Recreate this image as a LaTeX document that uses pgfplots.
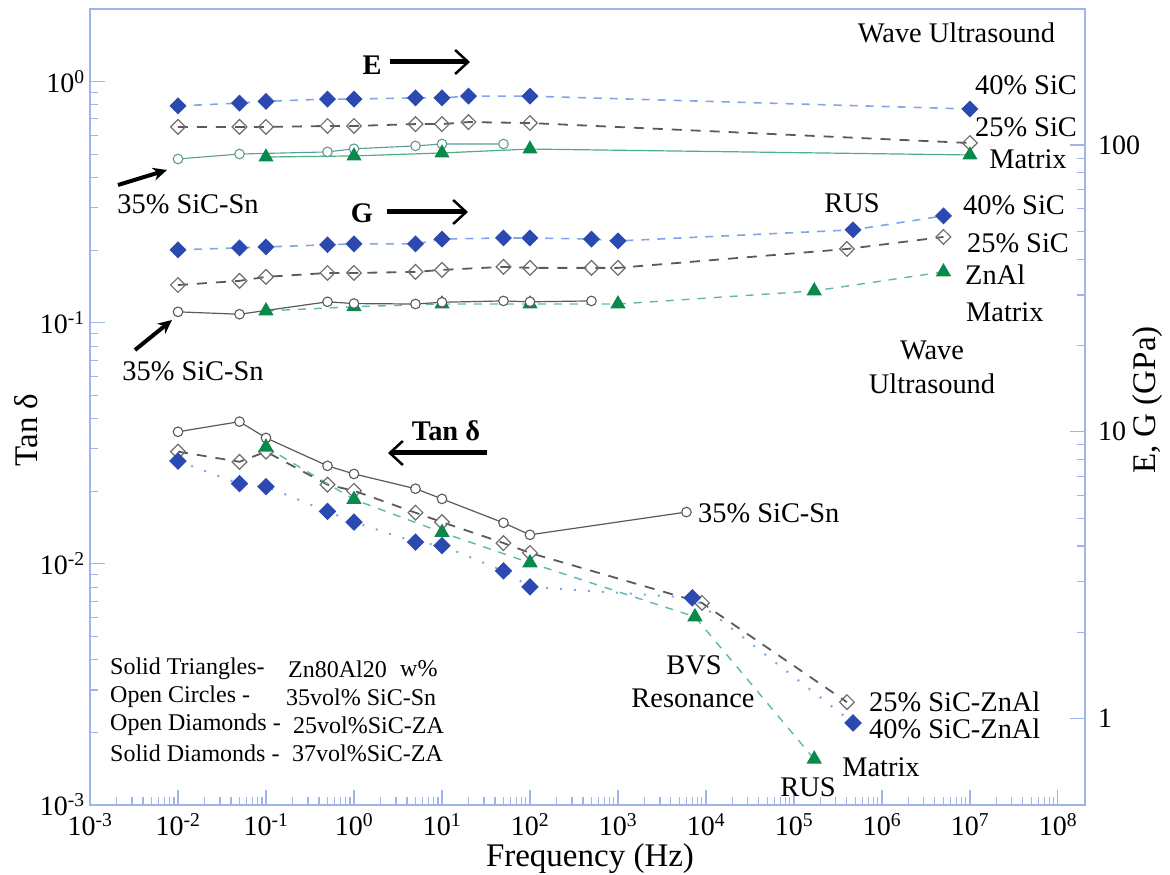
\documentclass[border=0pt]{standalone}
\usepackage{pgfplots}
\pgfplotsset{compat=1.18}
\usepackage{fontspec}
\setmainfont{Liberation Serif}
\usetikzlibrary{arrows.meta}
\definecolor{axisblue}{HTML}{9DB4EC}
\definecolor{dblue}{HTML}{2B49B0}
\definecolor{lblue}{HTML}{7FA6E8}
\definecolor{dgray}{HTML}{5A5A5A}
\definecolor{mgray}{HTML}{6E6E6E}
\definecolor{tgreen}{HTML}{0A8A4A}
\definecolor{teal2}{HTML}{5DB8B0}
\definecolor{egreen}{HTML}{4FAE84}
\newcommand{\ann}{\fontsize{28.4}{32}\selectfont}
\newcommand{\leg}{\fontsize{24}{28}\selectfont}
\begin{document}
\begin{tikzpicture}
\pgfplotsset{
  sdia/.style={mark=square*, mark size=5.2pt, mark options={rotate=45, solid, fill=dblue, draw=dblue}},
  odia/.style={mark=square, mark size=5.2pt, mark options={rotate=45, solid, fill=white, draw=mgray, line width=1.2pt}},
  ocirc/.style={mark=*, mark size=4.8pt, mark options={solid, fill=white, draw=#1, line width=1.1pt}},
  tri/.style={mark=triangle*, mark size=7.5pt, mark options={solid, fill=tgreen, draw=tgreen}},
  bdash/.style={lblue, line width=1.6pt, dash pattern=on 8pt off 8pt},
  gdash/.style={dgray, line width=1.8pt, dash pattern=on 10pt off 9pt},
  tdash/.style={teal2, line width=1.4pt, dash pattern=on 8pt off 8pt},
  bdot/.style={lblue, line width=2pt, dash pattern=on 2pt off 12pt},
}
\begin{axis}[
  at={(0pt,0pt)}, anchor=south west,
  scale only axis, width=995pt, height=796pt,
  xmode=log, ymode=log,
  xmin=1e-3, xmax=2.03e8, ymin=1e-3, ymax=2.0,
  xtick={1e-3,1e-2,1e-1,1,1e1,1e2,1e3,1e4,1e5,1e6,1e7,1e8},
  xticklabels={10\textsuperscript{-3},10\textsuperscript{-2},10\textsuperscript{-1},10\textsuperscript{0},10\textsuperscript{1},10\textsuperscript{2},10\textsuperscript{3},10\textsuperscript{4},10\textsuperscript{5},10\textsuperscript{6},10\textsuperscript{7},10\textsuperscript{8}},
  ytick={1e-3,1e-2,1e-1,1},
  yticklabels={10\textsuperscript{-3},10\textsuperscript{-2},10\textsuperscript{-1},10\textsuperscript{0}},
  xtick pos=left, ytick pos=left,
  tick align=inside,
  major tick length=15pt, minor tick length=8pt,
  axis line style={axisblue, line width=1.3pt},
  tick style={axisblue, line width=1.1pt},
  tick label style={font=\fontsize{28}{30}\selectfont},
  xticklabel style={inner sep=0pt, yshift=-8pt},
  yticklabel style={inner sep=0pt, xshift=-5pt},
  clip=false,
]
% Tan delta
\addplot[dgray, line width=1.2pt, ocirc=dgray] coordinates {(0.01,0.0353)(0.05,0.0389)(0.1,0.0333)(0.5,0.0255)(1,0.0236)(5,0.0205)(10,0.0186)(50,0.0148)(100,0.0132)(6000,0.0164)};
\addplot[gdash, odia] coordinates {(0.01,0.0292)(0.05,0.0265)(0.1,0.0292)(0.5,0.0213)(1,0.0201)(5,0.0163)(10,0.0149)(50,0.0122)(100,0.0111)(9000,0.00689)(4e5,0.00267)};
\addplot[bdot, sdia] coordinates {(0.01,0.0267)(0.05,0.0215)(0.1,0.0209)(0.5,0.0165)(1,0.0149)(5,0.0123)(10,0.0119)(50,0.00935)(100,0.00803)(7000,0.00723)(4.7e5,0.00219)};
\addplot[tdash, tri] coordinates {(0.1,0.0305)(1,0.0185)(10,0.0135)(100,0.0101)(7500,0.00603)(1.7e5,0.00155)};
\end{axis}
\begin{axis}[
  at={(0pt,0pt)}, anchor=south west,
  scale only axis, width=995pt, height=796pt,
  xmode=log, ymode=log,
  xmin=1e-3, xmax=2.03e8, ymin=0.5, ymax=298,
  axis x line=none, axis y line*=right,
  ytick={1,10,100}, yticklabels={1,10,100},
  tick align=inside,
  major tick length=15pt, minor tick length=8pt,
  axis line style={-, axisblue, line width=1.3pt},
  tick style={axisblue, line width=1.1pt},
  tick label style={font=\fontsize{28}{30}\selectfont},
  yticklabel style={inner sep=0pt, anchor=west, xshift=13pt},
  clip=false,
]
% E
\addplot[bdash, sdia] coordinates {(0.01,136.8)(0.05,140)(0.1,142)(0.5,144.6)(1,144.6)(5,146)(10,146)(20,148)(100,148)(1e7,133.5)};
\addplot[gdash, odia] coordinates {(0.01,115.6)(0.05,115.6)(0.1,115.6)(0.5,116.5)(1,116.5)(5,118.3)(10,118.3)(20,120.2)(100,119.3)(1e7,101.6)};
\addplot[teal2!70!dgray, line width=1.1pt, ocirc=teal2!70!dgray] coordinates {(0.01,89.4)(0.05,93)(0.5,94.6)(1,97.0)(5,99.3)(10,100.8)(50,100.8)};
\addplot[egreen, line width=1.2pt, tri] coordinates {(0.1,90.8)(1,91.6)(10,93.8)(100,96.8)(1e7,92.3)};
% G
\addplot[bdash, sdia] coordinates {(0.01,43.1)(0.05,43.8)(0.1,44.1)(0.5,44.9)(1,45.2)(5,45.2)(10,47.0)(50,47.4)(100,47.4)(500,47.0)(1000,46.3)(4.7e5,50.6)(5e6,56.6)};
\addplot[gdash, odia] coordinates {(0.01,32.5)(0.05,33.6)(0.1,34.7)(0.5,35.8)(1,35.8)(5,36.1)(10,36.7)(50,37.6)(100,37.3)(500,37.3)(1000,37.3)(4e5,43.4)(5e6,47.8)};
\addplot[tdash, tri] coordinates {(0.1,26.4)(1,27.3)(10,27.9)(100,27.9)(1000,27.9)(1.7e5,31.0)(5e6,36.1)};
\addplot[dgray, line width=1.2pt, ocirc=dgray] coordinates {(0.01,26.2)(0.05,25.7)(0.5,28.4)(1,28.0)(5,27.9)(10,28.3)(50,28.6)(100,28.4)(500,28.6)};
\end{axis}
% annotations
\node[font=\ann, inner sep=0pt] at (866.5pt,772pt) {Wave Ultrasound};
\node[font=\ann, inner sep=0pt] at (936pt,720pt) {40\% SiC};
\node[font=\ann, inner sep=0pt] at (936pt,678pt) {25\% SiC};
\node[font=\ann, inner sep=0pt] at (938pt,646pt) {Matrix};
\node[font=\ann, inner sep=0pt] at (762pt,602pt) {RUS};
\node[font=\ann, inner sep=0pt] at (924pt,600pt) {40\% SiC};
\node[font=\ann, inner sep=0pt] at (928pt,562pt) {25\% SiC};
\node[font=\ann, inner sep=0pt, anchor=west] at (875pt,530pt) {ZnAl};
\node[font=\ann, inner sep=0pt, anchor=west] at (876pt,493pt) {Matrix};
\node[font=\ann, inner sep=0pt] at (842pt,455pt) {Wave};
\node[font=\ann, inner sep=0pt] at (842pt,421pt) {Ultrasound};
\node[font=\ann, inner sep=0pt] at (98pt,601pt) {35\% SiC-Sn};
\node[font=\ann, inner sep=0pt] at (103pt,434pt) {35\% SiC-Sn};
\node[font=\ann, inner sep=0pt, anchor=west] at (608pt,292pt) {35\% SiC-Sn};
\node[font=\ann, inner sep=0pt] at (604pt,140pt) {BVS};
\node[font=\ann, inner sep=0pt] at (603pt,107pt) {Resonance};
\node[font=\ann, inner sep=0pt, anchor=west] at (779pt,103pt) {25\% SiC-ZnAl};
\node[font=\ann, inner sep=0pt, anchor=west] at (779pt,76pt) {40\% SiC-ZnAl};
\node[font=\ann, inner sep=0pt] at (791pt,38pt) {Matrix};
\node[font=\ann, inner sep=0pt] at (718pt,18pt) {RUS};
\node[font=\ann\bfseries, inner sep=0pt] at (282pt,740pt) {E};
\node[font=\ann\bfseries, inner sep=0pt] at (272pt,592pt) {G};
\node[font=\ann\bfseries, inner sep=0pt] at (356pt,374pt) {Tan δ};
\draw[line width=5pt, -{Straight Barb[length=13pt,width=24pt,line width=2.5pt]}] (300pt,743pt) -- (380pt,743pt);
\draw[line width=5pt, -{Straight Barb[length=13pt,width=24pt,line width=2.5pt]}] (297pt,593pt) -- (378pt,593pt);
\draw[line width=5pt, -{Straight Barb[length=13pt,width=24pt,line width=2.5pt]}] (397pt,352pt) -- (298pt,352pt);
\draw[line width=4pt, -{Stealth[length=14pt,width=13pt]}] (28pt,620pt) -- (77pt,635pt);
\draw[line width=4pt, -{Stealth[length=14pt,width=13pt]}] (45pt,455pt) -- (82pt,485pt);
% legend block
\node[font=\leg, inner sep=0pt, anchor=west] at (20pt,136pt) {Solid Triangles-};
\node[font=\leg, inner sep=0pt, anchor=west] at (20pt,108pt) {Open Circles -};
\node[font=\leg, inner sep=0pt, anchor=west] at (20pt,80pt) {Open Diamonds -};
\node[font=\leg, inner sep=0pt, anchor=west] at (20pt,52pt) {Solid Diamonds -};
\node[font=\leg, inner sep=0pt, anchor=west] at (198pt,136pt) {Zn80Al20};
\node[font=\leg, inner sep=0pt, anchor=west] at (310pt,136pt) {w\%};
\node[font=\leg, inner sep=0pt, anchor=west] at (196pt,108pt) {35vol\% SiC-Sn};
\node[font=\leg, inner sep=0pt, anchor=west] at (203pt,80pt) {25vol\%SiC-ZA};
\node[font=\leg, inner sep=0pt, anchor=west] at (202pt,52pt) {37vol\%SiC-ZA};
% axis labels
\node[font=\fontsize{33}{36}\selectfont, inner sep=0pt, rotate=90] at (-64pt,375pt) {Tan δ};
\node[font=\fontsize{33}{36}\selectfont, inner sep=0pt, rotate=90] at (1058pt,405pt) {E, G (GPa)};
\node[font=\fontsize{33}{36}\selectfont, inner sep=0pt] at (500pt,-54pt) {Frequency (Hz)};
\pgfresetboundingbox
\path[use as bounding box] (-90pt,-70pt) rectangle (1080pt,805pt);
\end{tikzpicture}
\end{document}
